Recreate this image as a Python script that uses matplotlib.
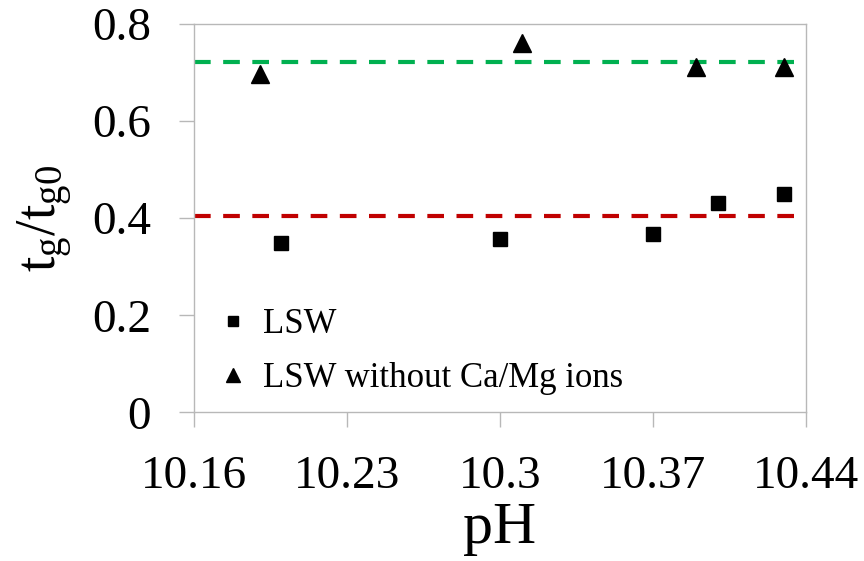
import matplotlib
matplotlib.use("Agg")
import matplotlib.pyplot as plt

# pH values and normalised gelation times
ph_lsw = [10.20, 10.30, 10.37, 10.40, 10.43]
tg_lsw = [0.349, 0.357, 0.367, 0.432, 0.450]

ph_noca = [10.19, 10.31, 10.39, 10.43]
tg_noca = [0.697, 0.762, 0.711, 0.711]

# average lines
avg_x = [10.16, 10.435]
avg_lsw = 0.405
avg_noca = 0.722

x_ticks = [10.16, 10.23, 10.30, 10.37, 10.44]
x_labels = ["10.16", "10.23", "10.3", "10.37", "10.44"]
y_ticks = [0, 0.2, 0.4, 0.6, 0.8]
y_labels = ["0", "0.2", "0.4", "0.6", "0.8"]

plt.rcParams['font.family'] = ['Liberation Serif', 'DejaVu Serif']
plt.rcParams['mathtext.fontset'] = 'custom'
plt.rcParams['mathtext.rm'] = 'Liberation Serif'
plt.rcParams['mathtext.it'] = 'Liberation Serif'

fig = plt.figure(figsize=(8.64, 5.61), dpi=100)
ax = fig.add_axes([0.2245, 0.265, 0.708, 0.692])

ax.plot(avg_x, [avg_noca, avg_noca], color='#00B050', lw=3, dashes=(4, 3), zorder=1)
ax.plot(avg_x, [avg_lsw, avg_lsw], color='#C00000', lw=3, dashes=(4, 3), zorder=1)

ax.plot(ph_lsw, tg_lsw, 's', color='black', markersize=10, label='LSW', zorder=3)
ax.plot(ph_noca, tg_noca, '^', color='black', markersize=13, label='LSW without Ca/Mg ions', zorder=3)

ax.set_xlim(10.16, 10.44)
ax.set_ylim(0, 0.8)
ax.set_xticks(x_ticks)
ax.set_xticklabels(x_labels)
ax.set_yticks(y_ticks)
ax.set_yticklabels(y_labels)

for s in ax.spines.values():
    s.set_color('#B8B8B8')
    s.set_linewidth(1)
ax.tick_params(axis='both', direction='out', length=11, width=1, color='#B8B8B8',
               labelsize=34, pad=20)

ax.set_xlabel('pH', fontsize=43, labelpad=3)
ax.set_ylabel(r'$\mathrm{t_g/t_{g0}}$', fontsize=40, labelpad=12)

ax.legend(loc='lower left', bbox_to_anchor=(-0.018, -0.035), frameon=False, fontsize=25,
          handletextpad=0.3, labelspacing=0.6, handlelength=1.1, markerscale=0.75)

fig.savefig('out.png', dpi=100)
